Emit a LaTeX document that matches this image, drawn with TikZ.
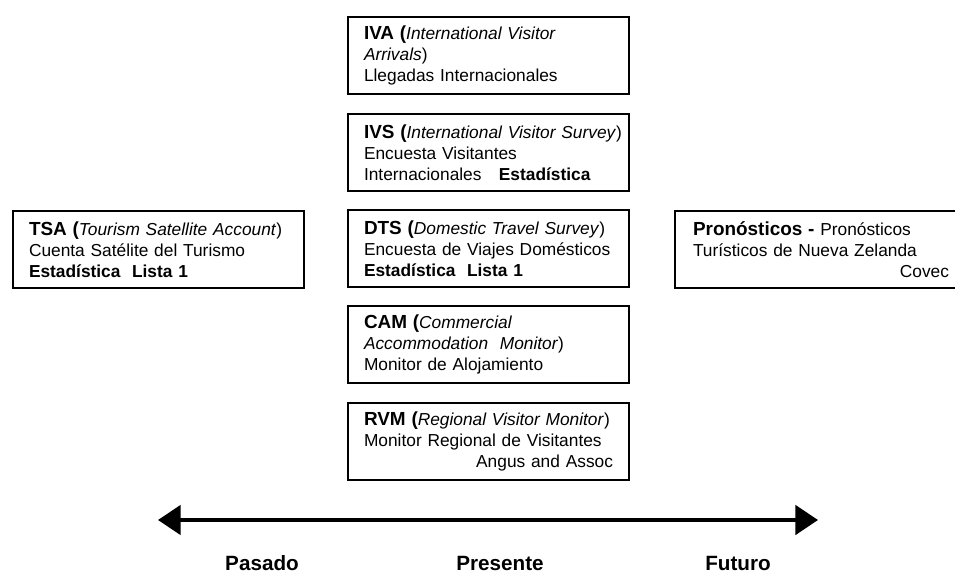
\documentclass[tikz,border=0pt]{standalone}
\usepackage{fontspec}
\setmainfont{Liberation Sans}
\usetikzlibrary{arrows.meta}

\newcommand{\cab}[1]{{\fontsize{14.2}{15.75}\selectfont\bfseries #1}}

\begin{document}
\begin{tikzpicture}[x=0.75pt,y=-0.75pt,
        caja/.style={draw, line width=1.5pt, anchor=north west, inner xsep=12pt, inner ysep=0pt,
            text width=186.75pt, minimum height=57.75pt, align=left,
            font=\fontsize{13}{15.75}\selectfont},
        etiqueta/.style={font=\fontsize{15.5}{18}\selectfont\bfseries}]
        \useasboundingbox (0,0) rectangle (955,577);

        % Columna del presente
        \foreach \nombre/\y/\texto in {
            iva/16/{\cab{IVA (}\textit{International Visitor}\\\textit{Arrivals})\\Llegadas Internacionales},
            ivs/113/{\mbox{\cab{IVS (}\textit{International Visitor Survey})}\\Encuesta Visitantes\\Internacionales\quad\textbf{Estadística}},
            dts/209/{\cab{DTS (}\textit{Domestic Travel Survey})\\Encuesta de Viajes Domésticos\\\textbf{Estadística\ \ Lista 1}},
            cam/305/{\cab{CAM (}\textit{Commercial}\\\textit{Accommodation\ \ Monitor})\\Monitor de Alojamiento},
            rvm/402/{\cab{RVM (}\textit{Regional Visitor Monitor})\\Monitor Regional de Visitantes\\\hfill Angus and Assoc}}
        {
            \node[caja] (\nombre) at (347,\y) {\texto};
        }

        % Pasado y futuro
        \node[caja, text width=194.25pt] (tsa) at (12,210)
            {\cab{TSA (}\textit{Tourism Satellite Account})\\Cuenta Satélite del Turismo\\\textbf{Estadística\ \ Lista 1}};
        \node[caja, inner xsep=13.5pt, text width=192pt] (prono) at (674,210)
            {\cab{Pronósticos -} Pronósticos\\Turísticos de Nueva Zelanda\\\hfill Covec};

        % Eje del tiempo
        \coordinate (izq) at (158,520);
        \coordinate (der) at (818,520);
        \draw[line width=3pt, {Triangle[length=17pt,width=22pt]}-{Triangle[length=17pt,width=22pt]}] (izq) -- (der);

        % Etiquetas
        \node[etiqueta] (pasado) at (262,563) {Pasado};
        \node[etiqueta] (presente) at (500,563) {Presente};
        \node[etiqueta] (futuro) at (738,563) {Futuro};
    \end{tikzpicture}
\end{document}
